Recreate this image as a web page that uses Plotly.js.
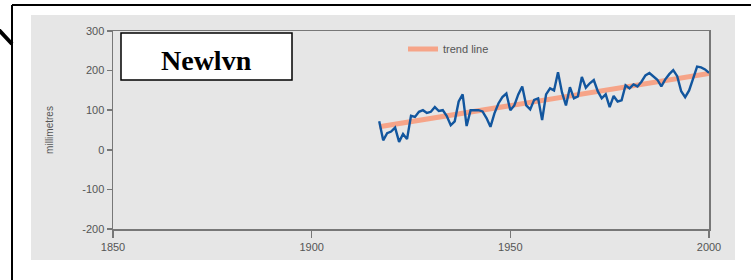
<!DOCTYPE html>
<html>
<head>
<meta charset="utf-8">
<script src="https://cdn.plot.ly/plotly-3.0.1.min.js"></script>
<style>html,body{margin:0;padding:0;background:#fff;}#chart{width:751px;height:280px;}</style>
</head>
<body>
<div id="chart"></div>
<script>
const years = [1917,1918,1919,1920,1921,1922,1923,1924,1925,1926,1927,1928,1929,1930,1931,1932,1933,1934,1935,1936,1937,1938,1939,1940,1941,1942,1943,1944,1945,1946,1947,1948,1949,1950,1951,1952,1953,1954,1955,1956,1957,1958,1959,1960,1961,1962,1963,1964,1965,1966,1967,1968,1969,1970,1971,1972,1973,1974,1975,1976,1977,1978,1979,1980,1981,1982,1983,1984,1985,1986,1987,1988,1989,1990,1991,1992,1993,1994,1995,1996,1997,1998,1999,2000];
const seaLevel = [72,24,42,46,56,20,40,27,86,83,96,100,93,96,108,98,100,85,62,72,122,140,60,100,100,100,97,80,58,92,117,133,142,100,112,140,160,112,102,126,130,75,140,155,150,196,145,112,158,130,135,184,157,168,176,148,130,140,108,136,122,125,163,155,165,160,172,188,194,185,177,160,178,191,201,186,148,133,150,180,210,208,203,194];
const trendYears = [1917, 2000];
const trendValues = [58, 193];
const xTicks = [1850, 1900, 1950, 2000];
const yTicks = [-200, -100, 0, 100, 200, 300];
const stationName = "Newlvn";
const yTitle = "millimetres";
const trendName = "trend line";

const W = 751, H = 280;
const L = 113, R = 709, T = 31, B = 229;
const px = v => (v - L) / (R - L);
const py = v => (B - v) / (B - T);

const traces = [
  {x: trendYears, y: trendValues, mode: 'lines', name: trendName,
   line: {color: '#f6a488', width: 5}, hoverinfo: 'skip'},
  {x: years, y: seaLevel, mode: 'lines', name: 'Newlyn', showlegend: false,
   line: {color: '#12569e', width: 2.4}}
];

const axisFont = {family: 'Liberation Sans, Arial, sans-serif', size: 11, color: '#555'};

const layout = {
  width: W, height: H,
  margin: {l: L, r: W - R, t: T, b: H - B, pad: 0},
  paper_bgcolor: '#ffffff',
  plot_bgcolor: '#e6e6e6',
  showlegend: true,
  legend: {x: px(403), y: py(49), xanchor: 'left', yanchor: 'middle',
           bgcolor: 'rgba(0,0,0,0)', font: {family: 'Liberation Sans, Arial, sans-serif', size: 11, color: '#555'},
           itemwidth: 30},
  xaxis: {range: [1850, 2000], tickvals: xTicks, ticktext: xTicks.map(String),
          ticks: 'outside', ticklen: 7, tickcolor: '#777', tickwidth: 1.5,
          showline: true, linecolor: '#777', linewidth: 1.5, mirror: true,
          showgrid: false, zeroline: false, tickfont: axisFont, fixedrange: true},
  yaxis: {range: [-200, 300], tickvals: yTicks, ticktext: yTicks.map(String),
          ticks: 'outside', ticklen: 5, tickcolor: '#777', tickwidth: 1.5,
          showline: true, linecolor: '#777', linewidth: 1.5, mirror: true,
          showgrid: false, zeroline: false, tickfont: axisFont, fixedrange: true,
          title: {text: yTitle, font: {family: 'Liberation Sans, Arial, sans-serif', size: 10, color: '#555'}, standoff: 27}},
  shapes: [
    {type: 'rect', xref: 'paper', yref: 'paper', x0: px(31), x1: px(735), y0: py(15), y1: py(260),
     fillcolor: '#e6e6e6', line: {width: 0}, layer: 'below'},
    {type: 'line', xref: 'paper', yref: 'paper', x0: px(12), x1: px(760), y0: py(5), y1: py(5),
     line: {color: '#000', width: 2}},
    {type: 'line', xref: 'paper', yref: 'paper', x0: px(12), x1: px(12), y0: py(5), y1: py(290),
     line: {color: '#000', width: 2}},
    {type: 'line', xref: 'paper', yref: 'paper', x0: px(-2), x1: px(12), y0: py(29), y1: py(44),
     line: {color: '#000', width: 4}},
    {type: 'rect', xref: 'paper', yref: 'paper', x0: px(121), x1: px(292), y0: py(33), y1: py(80),
     fillcolor: '#ffffff', line: {color: '#000', width: 1.5}}
  ],
  annotations: [
    {xref: 'paper', yref: 'paper', x: px(206.5), y: py(60), xanchor: 'center', yanchor: 'middle',
     text: '<b>' + stationName + '</b>', showarrow: false,
     font: {family: 'Liberation Serif, Times New Roman, serif', size: 28, color: '#000'}}
  ]
};

Plotly.newPlot('chart', traces, layout, {displayModeBar: false, staticPlot: true});
</script>
</body>
</html>
